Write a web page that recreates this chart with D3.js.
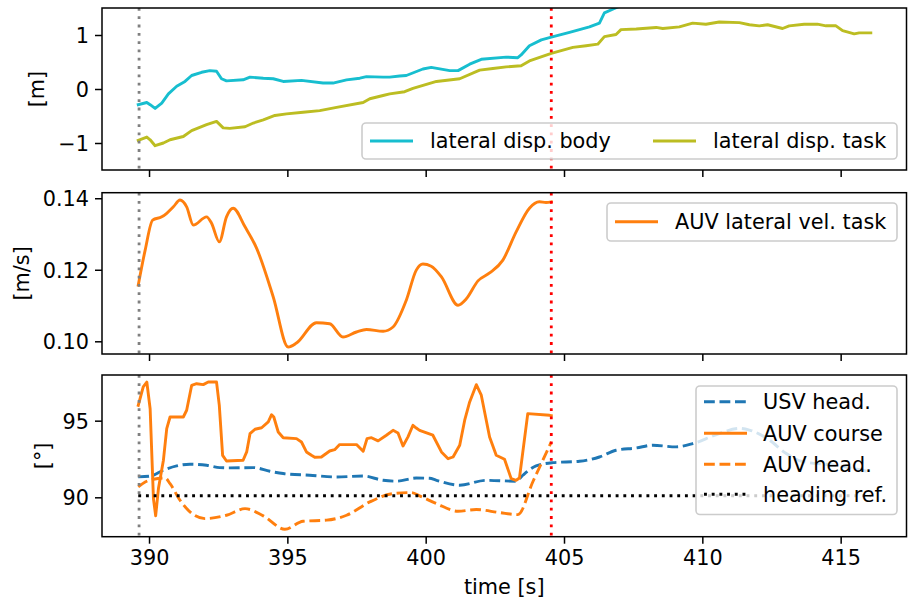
<!DOCTYPE html>
<html>
<head>
<meta charset="utf-8">
<script src="https://cdnjs.cloudflare.com/ajax/libs/d3/7.8.5/d3.min.js"></script>
<style>
    body { margin: 0; background: #ffffff; }
    svg { font-family: "DejaVu Sans", sans-serif; }
</style>
</head>
<body>
<script>

// lateral displacement (top panel)
var bodyTime = [389.61, 389.92, 390.04, 390.22, 390.46, 390.70, 391.00, 391.30, 391.54, 391.90, 392.20, 392.44, 392.62, 392.80, 393.40, 393.65, 394.13, 394.49, 394.85, 395.51, 396.29, 396.65, 397.14, 397.62, 397.86, 398.46, 398.70, 399.06, 399.30, 399.90, 400.20, 400.87, 401.17, 401.59, 402.01, 402.91, 403.33, 403.45, 403.75, 404.18, 404.54, 405.20, 405.92, 406.28, 406.46, 406.82, 407.20],
    bodyDisp = [-0.29, -0.25, -0.29, -0.36, -0.26, -0.09, 0.05, 0.14, 0.25, 0.31, 0.34, 0.33, 0.19, 0.15, 0.17, 0.22, 0.20, 0.19, 0.14, 0.16, 0.11, 0.11, 0.17, 0.20, 0.23, 0.22, 0.22, 0.24, 0.25, 0.37, 0.40, 0.34, 0.34, 0.46, 0.55, 0.59, 0.58, 0.63, 0.80, 0.91, 0.96, 1.05, 1.15, 1.22, 1.41, 1.49, 1.58];

var taskTime = [389.61, 389.92, 390.04, 390.22, 390.52, 390.76, 391.24, 391.54, 392.08, 392.44, 392.68, 392.92, 393.47, 393.77, 394.13, 394.55, 394.97, 395.57, 396.17, 396.78, 397.74, 397.98, 398.46, 398.70, 399.24, 399.54, 400.39, 401.23, 401.95, 402.43, 402.91, 403.45, 403.75, 404.54, 405.32, 405.80, 406.22, 406.46, 406.88, 407.06, 407.61, 408.33, 408.57, 409.17, 409.65, 410.13, 410.61, 411.34, 411.70, 412.06, 412.36, 412.90, 413.14, 413.68, 414.16, 414.47, 414.83, 415.07, 415.49, 415.67, 416.09],
    taskDisp = [-0.95, -0.89, -0.94, -1.05, -1.00, -0.94, -0.88, -0.77, -0.66, -0.60, -0.72, -0.73, -0.70, -0.63, -0.57, -0.49, -0.46, -0.43, -0.40, -0.34, -0.25, -0.18, -0.12, -0.09, -0.05, 0.01, 0.14, 0.19, 0.35, 0.38, 0.41, 0.43, 0.52, 0.66, 0.77, 0.80, 0.83, 0.97, 1.01, 1.10, 1.11, 1.14, 1.12, 1.15, 1.22, 1.20, 1.24, 1.23, 1.19, 1.17, 1.19, 1.12, 1.17, 1.20, 1.20, 1.17, 1.17, 1.08, 1.02, 1.04, 1.04];

// AUV lateral velocity (middle panel)
var velTime = [389.61, 389.86, 390.13, 390.46, 390.64, 390.88, 391.12, 391.36, 391.60, 392.08, 392.26, 392.54, 392.80, 393.04, 393.47, 393.89, 394.49, 395.03, 395.33, 396.05, 396.53, 397.01, 397.50, 397.86, 398.46, 398.82, 399.30, 399.66, 399.90, 400.20, 400.57, 401.17, 401.47, 401.89, 402.31, 402.79, 403.27, 403.75, 404.11, 404.35, 404.54],
    velTask = [0.1157, 0.1255, 0.1339, 0.1348, 0.1358, 0.1376, 0.1395, 0.1376, 0.1325, 0.1348, 0.1330, 0.1278, 0.1348, 0.1372, 0.1320, 0.1260, 0.1124, 0.0984, 0.0995, 0.1052, 0.1049, 0.1012, 0.1026, 0.1033, 0.1028, 0.1040, 0.1115, 0.1199, 0.1216, 0.1210, 0.1180, 0.1101, 0.1119, 0.1169, 0.1191, 0.1227, 0.1306, 0.1372, 0.1390, 0.1388, 0.1390];

// headings (bottom panel)
var usvTime = [389.61, 390.04, 390.52, 391.00, 391.48, 392.08, 392.56, 392.92, 393.77, 394.37, 394.85, 395.81, 396.78, 397.74, 398.46, 398.94, 399.66, 400.14, 400.39, 401.23, 402.19, 403.27, 403.51, 403.99, 404.60, 405.56, 406.28, 406.88, 407.61, 408.21, 409.05, 409.65, 410.49, 411.34, 411.70, 412.42, 413.02, 413.62, 414.70, 416.03],
    usvHead = [91.33, 91.38, 91.77, 92.05, 92.16, 92.09, 91.94, 91.92, 91.94, 91.70, 91.55, 91.44, 91.33, 91.39, 91.11, 91.05, 91.26, 91.24, 91.11, 90.79, 91.11, 91.05, 91.44, 92.05, 92.26, 92.35, 92.63, 93.07, 93.22, 93.40, 93.29, 93.50, 94.07, 94.50, 94.39, 93.74, 92.87, 92.33, 92.11, 91.68];

var courseTime = [389.61, 389.79, 389.92, 390.04, 390.16, 390.24, 390.34, 390.52, 390.64, 390.76, 391.24, 391.36, 391.54, 391.72, 391.96, 392.14, 392.44, 392.54, 392.66, 392.80, 393.40, 393.53, 393.65, 393.83, 394.07, 394.31, 394.43, 394.51, 394.67, 394.85, 395.33, 395.51, 395.69, 395.87, 395.99, 396.23, 396.53, 396.71, 396.89, 397.50, 397.74, 397.88, 398.04, 398.28, 398.58, 398.82, 399.00, 399.18, 399.36, 399.54, 399.66, 399.78, 400.26, 400.57, 400.81, 400.99, 401.23, 401.41, 401.59, 401.83, 402.01, 402.31, 402.55, 402.85, 403.09, 403.27, 403.39, 403.69, 404.48, 404.54],
    auvCourse = [96.0, 97.2, 97.52, 95.78, 89.9, 88.8, 90.57, 92.42, 94.48, 95.24, 95.24, 95.68, 97.3, 97.41, 97.35, 97.52, 97.52, 96.0, 92.74, 92.37, 92.42, 92.96, 94.15, 94.44, 94.54, 94.92, 95.39, 95.24, 94.26, 93.89, 93.83, 93.61, 92.96, 92.74, 92.61, 92.63, 93.02, 93.11, 93.44, 93.44, 93.0, 93.83, 93.89, 93.68, 94.05, 94.37, 94.2, 93.35, 93.94, 94.7, 94.52, 94.37, 94.05, 92.96, 92.52, 92.63, 93.40, 95.03, 96.22, 97.35, 96.66, 93.94, 92.74, 92.48, 91.22, 91.11, 91.26, 95.46, 95.35, 95.33];

var auvHeadTime = [389.61, 389.86, 390.16, 390.58, 390.76, 391.12, 391.48, 392.02, 392.80, 393.47, 394.13, 394.91, 395.57, 396.42, 397.14, 397.98, 398.82, 399.48, 399.78, 400.39, 401.17, 401.83, 402.67, 403.33, 403.87, 404.54],
    auvHead = [90.68, 91.0, 91.18, 91.26, 90.89, 89.81, 89.05, 88.61, 88.83, 89.26, 88.79, 87.92, 88.44, 88.51, 88.83, 89.70, 90.24, 90.31, 90.09, 89.59, 89.09, 89.20, 89.0, 88.87, 91.0, 93.61];

var refTime = [389.61, 416.09],
    headingRef = [90.1, 90.1];

// event markers and ticks
var startTime = 389.64,
    endTime = 404.54,
    timeTicks = [390, 395, 400, 405, 410, 415],
    dispTicks = [-1, 0, 1],
    velTicks = [0.10, 0.12, 0.14],
    headTicks = [90, 95];

window.onload = function() {
    makeGraph();
};

/*
 * Pair a time array with a value array.
 */
function zip(t, v)
{
    let out = [];
    for(let i = 0 ; i < t.length ; i++)
    {
        out.push([t[i], v[i]]);
    }
    return out;
}

/*
 * Draw the three stacked panels.
 */
function makeGraph()
{
    var width = 909,
        height = 603,
        left = 102,
        right = 906.5,
        fontSize = 20.8,
        lw = 2.9;

    var svg = d3.select("body").append("svg")
                .attr("width", width)
                .attr("height", height);

    // shared time axis
    var x = d3.scaleLinear()
                .domain([388.3, 417.38])
                .range([left, right]);

    var panels = [
        {top: 8, bottom: 170, domain: [-1.5, 1.5], ticks: dispTicks,
         fmt: function(d) { return d < 0 ? "\u2212" + Math.abs(d) : d; }, label: "[m]", labelX: 37},
        {top: 192.7, bottom: 354, domain: [0.09645, 0.14155], ticks: velTicks,
         fmt: d3.format(".2f"), label: "[m/s]", labelX: 22},
        {top: 375, bottom: 536.7, domain: [87.43, 97.98], ticks: headTicks,
         fmt: d3.format("d"), label: "[\u00b0]", labelX: 42.5}
    ];

    panels.forEach(function(p, i) {
        p.y = d3.scaleLinear().domain(p.domain).range([p.bottom, p.top]);
        p.g = svg.append("g");

        // clip the data to the frame
        svg.append("clipPath").attr("id", "clip" + i)
            .append("rect")
                .attr("x", left).attr("y", p.top)
                .attr("width", right - left).attr("height", p.bottom - p.top);
        p.plot = p.g.append("g").attr("clip-path", "url(#clip" + i + ")");

        // y axis
        var yAxis = d3.axisLeft(p.y).tickValues(p.ticks).tickFormat(p.fmt)
                        .tickSize(7).tickPadding(6);
        var ya = p.g.append("g")
            .attr("transform", "translate(" + left + ",0)")
            .call(yAxis);
        ya.select(".domain").remove();
        ya.selectAll("line").attr("stroke", "#000").attr("stroke-width", 1.5);
        ya.selectAll("text").attr("font-size", fontSize).attr("fill", "#000")
            .attr("font-family", "DejaVu Sans").attr("dy", "0.36em");

        // x axis (labels only on the bottom panel)
        var xAxis = d3.axisBottom(x).tickValues(timeTicks).tickSize(7).tickPadding(6)
                        .tickFormat(i == 2 ? d3.format("d") : "");
        var xa = p.g.append("g")
            .attr("transform", "translate(0," + p.bottom + ")")
            .call(xAxis);
        xa.select(".domain").remove();
        xa.selectAll("line").attr("stroke", "#000").attr("stroke-width", 1.5);
        xa.selectAll("text").attr("font-size", fontSize).attr("fill", "#000")
            .attr("font-family", "DejaVu Sans").attr("dy", "0.74em");

        // y label
        p.g.append("text")
            .attr("transform", "translate(" + p.labelX + "," + ((p.top + p.bottom) / 2) + ") rotate(-90)")
            .attr("dy", "0.35em")
            .attr("text-anchor", "middle")
            .attr("font-size", fontSize)
            .text(p.label);
    });

    // draw one series into a panel
    function series(p, t, v, color, dash, curve)
    {
        var line = d3.line()
                    .x(function(d) { return x(d[0]); })
                    .y(function(d) { return p.y(d[1]); })
                    .curve(curve || d3.curveLinear);
        p.plot.append("path")
            .datum(zip(t, v))
            .attr("d", line)
            .attr("fill", "none")
            .attr("stroke", color)
            .attr("stroke-width", lw)
            .attr("stroke-dasharray", dash || null)
            .attr("stroke-linejoin", "round")
            .attr("stroke-linecap", dash ? "butt" : "square");
    }

    var dashed = "10.8,4.7",
        dotted = "2.9,4.8";

    series(panels[0], bodyTime, bodyDisp, "#17becf");
    series(panels[0], taskTime, taskDisp, "#bcbd22");

    series(panels[1], velTime, velTask, "#ff7f0e", null, d3.curveMonotoneX);

    series(panels[2], usvTime, usvHead, "#1f77b4", dashed, d3.curveMonotoneX);
    series(panels[2], courseTime, auvCourse, "#ff7f0e");
    series(panels[2], auvHeadTime, auvHead, "#ff7f0e", dashed, d3.curveMonotoneX);
    series(panels[2], refTime, headingRef, "#000000", dotted);

    // vertical event markers
    panels.forEach(function(p) {
        [[startTime, "#808080"], [endTime, "#ff0000"]].forEach(function(m) {
            p.plot.append("line")
                .attr("x1", x(m[0])).attr("x2", x(m[0]))
                .attr("y1", p.top).attr("y2", p.bottom)
                .attr("stroke", m[1])
                .attr("stroke-width", 2.8)
                .attr("stroke-dasharray", "2.8,5.5");
        });
    });

    // frames
    panels.forEach(function(p) {
        p.g.append("rect")
            .attr("x", left).attr("y", p.top)
            .attr("width", right - left).attr("height", p.bottom - p.top)
            .attr("fill", "none")
            .attr("stroke", "#000")
            .attr("stroke-width", 1.5);
    });

    // legends
    legend(svg, 362, 123, 535, 36, [
        {label: "lateral disp. body", color: "#17becf", hx: 370, tx: 430, y: 141},
        {label: "lateral disp. task", color: "#bcbd22", hx: 653, tx: 713, y: 141}
    ]);
    legend(svg, 607, 203, 290, 38, [
        {label: "AUV lateral vel. task", color: "#ff7f0e", hx: 615, tx: 675, y: 221.7}
    ]);
    legend(svg, 696, 386, 201, 128.5, [
        {label: "USV head.", color: "#1f77b4", dash: dashed, hx: 704, tx: 763, y: 401.7},
        {label: "AUV course", color: "#ff7f0e", hx: 704, tx: 763, y: 433.3},
        {label: "AUV head.", color: "#ff7f0e", dash: dashed, hx: 704, tx: 763, y: 464.3},
        {label: "heading ref.", color: "#000000", dash: dotted, hx: 704, tx: 763, y: 494.3}
    ]);

    function legend(svg, bx, by, bw, bh, items)
    {
        var g = svg.append("g");
        g.append("rect")
            .attr("x", bx).attr("y", by)
            .attr("width", bw).attr("height", bh)
            .attr("rx", 4).attr("ry", 4)
            .attr("fill", "#ffffff").attr("fill-opacity", 0.8)
            .attr("stroke", "#cccccc").attr("stroke-width", 1.6);
        items.forEach(function(it) {
            g.append("line")
                .attr("x1", it.hx).attr("x2", it.hx + 43)
                .attr("y1", it.y).attr("y2", it.y)
                .attr("stroke", it.color)
                .attr("stroke-width", lw)
                .attr("stroke-dasharray", it.dash || null);
            g.append("text")
                .attr("x", it.tx).attr("y", it.y)
                .attr("dy", "0.35em")
                .attr("font-size", fontSize)
                .text(it.label);
        });
    }

    // x label
    svg.append("text")
        .attr("x", (left + right) / 2)
        .attr("y", 594)
        .attr("text-anchor", "middle")
        .attr("font-size", fontSize)
        .text("time [s]");
}
</script>
</body>
</html>
